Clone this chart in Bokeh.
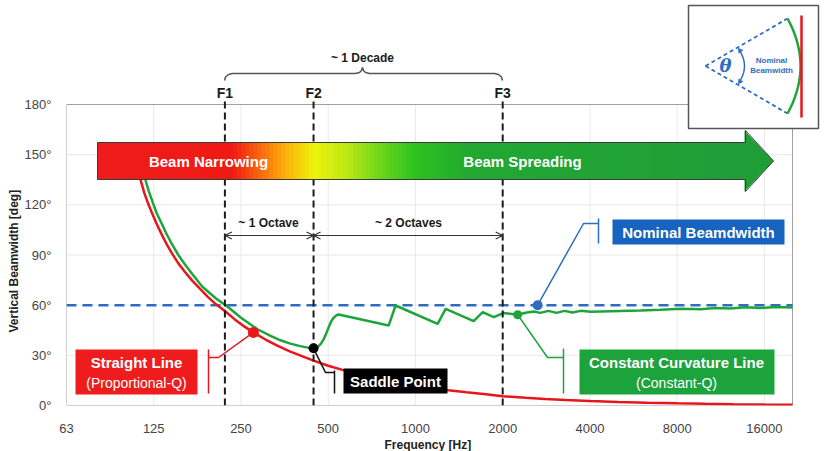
import numpy as np
from bokeh.plotting import figure
from bokeh.models import FixedTicker, Label, Arrow, OpenHead, Range1d, Title
from bokeh.embed import file_html
from bokeh.resources import INLINE

# ---------------- data ----------------
x_ticks = [62.5, 125, 250, 500, 1000, 2000, 4000, 8000, 16000]
x_tick_labels = ["63", "125", "250", "500", "1000", "2000", "4000", "8000", "16000"]
y_ticks = [0, 30, 60, 90, 120, 150, 180]
y_tick_labels = ["0°", "30°", "60°", "90°", "120°", "150°", "180°"]

# Straight line array (Proportional-Q)
red_freq = [108, 110, 113, 116, 120, 124, 128, 133, 138, 145, 152, 160, 170, 180, 192, 205,
            220, 238, 258, 280, 305, 335, 370, 410, 445, 500, 560, 630, 710, 800, 900, 1000,
            1150, 1300, 1500, 1750, 2000, 2400, 2800, 3300, 4000, 5000, 6300, 8000, 10000,
            12500, 16000, 20000]
red_deg = [149, 142, 134, 127, 120, 114, 108.5, 102.5, 97, 90.5, 85, 80, 74.5, 70, 65, 60.5,
           56.5, 51.5, 47, 43, 39.3, 35.6, 32.2, 29.2, 26.8, 23.8, 21.3, 18.9, 16.8, 14.9, 13.2,
           11.9, 10.3, 9.1, 7.9, 6.7, 5.6, 4.6, 3.9, 3.3, 2.7, 2.1, 1.7, 1.3, 1.0, 0.8, 0.6, 0.5]

# Constant curvature array (Constant-Q)
green_freq = [112, 114, 117, 120, 124, 128, 133, 138, 145, 152, 160, 170, 184, 205, 225, 250,
              285, 315, 342, 370, 400, 425, 445, 455, 463, 472, 482, 492, 501, 511, 521, 532,
              543, 808, 854, 1193, 1271, 1588, 1706, 1862, 2016, 2253, 2400, 2559, 2700, 2877,
              3067, 3268, 3483, 3712, 4025, 4711, 5977, 7006, 8231, 9628, 10843, 12221, 13770,
              15512, 17477, 20000]
green_deg = [150, 143, 135, 128.5, 121.5, 115, 109, 103, 96, 90, 84.5, 78.5, 71, 64, 59, 52.5,
             45.6, 41.8, 39, 37, 35.5, 34.6, 34.2, 34.6, 35.5, 37, 39.5, 43, 46.5, 50, 52.3, 53.8,
             54.4, 47.8, 59.8, 48.8, 57.8, 50.4, 55.8, 52.8, 55.3, 54.3, 55.5, 56.2, 55.4, 56.6,
             55.4, 56.6, 55.6, 56.6, 56.1, 56.4, 56.8, 57.3, 57.9, 57.6, 58.3, 58.0, 58.7, 58.3,
             58.9, 58.6]

nominal_deg = 60
f_marks = [220, 445, 2000]
f_names = ["F1", "F2", "F3"]
red_pt_freq = 276
saddle_freq = 445
green_pt_freq = 2253
blue_pt_freq = 2640

# ---------------- layout helpers (pixel -> data for decorations) ----------------
W, H = 825, 451
PX_L, PX_R = 66, 792
F_LO, F_HI = 62.5, 20000
OCT = (PX_R - PX_L) / np.log2(F_HI / F_LO)
PY_0, PY_180 = 405, 104
PPD = (PY_0 - PY_180) / 180.0


def fx(px):
    return F_LO * 2 ** ((np.asarray(px, dtype=float) - PX_L) / OCT)


def fy(py):
    return (PY_0 - np.asarray(py, dtype=float)) / PPD


def on_curve(f, freqs, degs):
    return float(np.interp(np.log(f), np.log(freqs), degs))


FONT = "Liberation Sans"
RED = "#E8161B"
GREEN = "#1DA53C"
BLUE = "#2E6EC2"
BLUE_BOX = "#1763BE"

p = figure(width=W, height=H, x_axis_type="log",
           x_range=Range1d(F_LO, float(fx(W))), y_range=Range1d(0, float(fy(0))),
           toolbar_location=None, output_backend="svg",
           min_border_left=PX_L, min_border_right=0, min_border_top=0,
           min_border_bottom=H - PY_0)
p.outline_line_color = None
p.background_fill_color = "white"
p.border_fill_color = "white"
p.xgrid.visible = False
p.ygrid.visible = False

# axes
p.xaxis.ticker = FixedTicker(ticks=x_ticks)
p.xaxis.major_label_overrides = {float(t): l for t, l in zip(x_ticks, x_tick_labels)}
p.yaxis.ticker = FixedTicker(ticks=y_ticks)
p.yaxis.major_label_overrides = {float(t): l for t, l in zip(y_ticks, y_tick_labels)}
for ax in (p.xaxis, p.yaxis):
    ax.axis_line_color = None
    ax.major_tick_line_color = None
    ax.minor_tick_line_color = None
    ax.major_label_text_font_size = "13px"
    ax.major_label_text_color = "#444444"
    ax.major_label_text_font = FONT
p.xaxis.major_label_standoff = 12
p.yaxis.major_label_standoff = 9

# axis titles (as side titles so they can be offset)
p.add_layout(Title(text="Vertical Beamwidth [deg]", align="left", offset=73, standoff=2,
                   text_font_size="12px", text_font_style="bold", text_font=FONT,
                   text_color="#222222"), "left")
p.add_layout(Title(text="Frequency [Hz]", align="left", offset=318, standoff=0,
                   text_font_size="12px", text_font_style="bold", text_font=FONT,
                   text_color="#222222"), "below")

# grid
p.segment(x0=x_ticks[1:], y0=0, x1=x_ticks[1:], y1=180, line_color="#e8e8e8", line_width=1)
p.segment(x0=F_LO, y0=y_ticks[1:-1], x1=F_HI, y1=y_ticks[1:-1], line_color="#e8e8e8", line_width=1)
# frame
p.quad(left=F_LO, right=F_HI, bottom=0, top=180, fill_color=None, line_color="#a0a0a0", line_width=1)

# nominal beamwidth
p.line([F_LO, F_HI], [nominal_deg, nominal_deg], line_color=BLUE, line_width=2.5, line_dash="10 6")

# curves
p.line(red_freq, red_deg, line_color=RED, line_width=2.5)
p.line(green_freq, green_deg, line_color=GREEN, line_width=2.5)

# F lines
for f in f_marks:
    p.line([f, f], [0, float(fy(97))], line_color="#1b1b1b", line_width=2, line_dash="7 4")

# ---------------- gradient arrow ----------------
body_l, body_r, body_t, body_b = 97, 745, 142, 179
head_t, head_b, tip = 130, 191, 773
stops_px = [97, 232, 258, 285, 313, 345, 385, 415, 470, 745]
stops_col = ["#EE1C1C", "#F01A14", "#F7640E", "#FDB00A", "#EEF20A", "#BEEA14",
             "#62D41C", "#2CC21E", "#22A832", "#1F9E38"]
rgb = np.array([[int(c[i:i + 2], 16) for i in (1, 3, 5)] for c in stops_col], dtype=float)
edges = np.arange(body_l, body_r + 1, 4.0)
lefts, rights, cols = [], [], []
for a, b in zip(edges[:-1], edges[1:]):
    m = (a + b) / 2
    c = [int(round(np.interp(m, stops_px, rgb[:, k]))) for k in range(3)]
    lefts.append(float(fx(a)))
    rights.append(float(fx(min(b + 0.8, body_r))))
    cols.append("#%02x%02x%02x" % tuple(c))
p.quad(left=lefts, right=rights, bottom=float(fy(body_b)), top=float(fy(body_t)),
       fill_color=cols, line_color=None)
head_x = [body_r - 1, tip, body_r - 1]
head_y = [head_t, (body_t + body_b) / 2, head_b]
p.patch(list(fx(head_x)), list(fy(head_y)), fill_color="#1F9E38", line_color=None)
outline_px = [(body_l, body_t), (body_r, body_t), (body_r, head_t), (tip, (body_t + body_b) / 2),
              (body_r, head_b), (body_r, body_b), (body_l, body_b), (body_l, body_t)]
p.line(list(fx([q[0] for q in outline_px])), list(fy([q[1] for q in outline_px])),
       line_color="#3a3a3a", line_width=1)


def label(px_x, px_y, text, size, color="white", style="bold", align="center",
          font=FONT, angle=0.0):
    p.add_layout(Label(x=float(fx(px_x)), y=float(fy(px_y)), text=text,
                       text_font_size=f"{size}px", text_color=color, text_font_style=style,
                       text_align=align, text_baseline="middle", text_font=font, angle=angle))


label(208, 161, "Beam Narrowing", 15)
label(522, 161, "Beam Spreading", 15)

# F labels, decade brace
for f, n in zip(f_marks, f_names):
    p.add_layout(Label(x=f, y=float(fy(92)), text=n, text_font_size="14px", text_color="#1b1b1b",
                       text_font_style="bold", text_align="center", text_baseline="middle",
                       text_font=FONT))
label(362, 57, "~ 1 Decade", 12, color="#1b1b1b")
brace = [(224, 80), (225, 76.5), (228, 74), (232, 73), (355, 73), (359, 72), (361, 70), (362, 67),
         (363, 70), (365, 72), (369, 73), (494, 73), (498, 74), (501, 76.5), (502, 80)]
p.line(list(fx([q[0] for q in brace])), list(fy([q[1] for q in brace])),
       line_color="#555555", line_width=1.5)

# octave spans
for a, b in ((f_marks[0], f_marks[1]), (f_marks[1], f_marks[2])):
    p.add_layout(Arrow(start=OpenHead(size=7, line_color="#333333", line_width=1.2),
                       end=OpenHead(size=7, line_color="#333333", line_width=1.2),
                       x_start=a, y_start=float(fy(235)), x_end=b, y_end=float(fy(235)),
                       line_color="#333333", line_width=1.2))
label(268, 222, "~ 1 Octave", 12, color="#1b1b1b")
label(408, 222, "~ 2 Octaves", 12, color="#1b1b1b")

# ---------------- callouts ----------------
red_pt = on_curve(red_pt_freq, red_freq, red_deg)
sad_pt = on_curve(saddle_freq, green_freq, green_deg)
grn_pt = on_curve(green_pt_freq, green_freq, green_deg)


def leader(f0, d0, bend_px, end_px, bar_x, bar_y0, bar_y1, color):
    xs = [f0, float(fx(bend_px[0])), float(fx(end_px[0]))]
    ys = [d0, float(fy(bend_px[1])), float(fy(end_px[1]))]
    p.line(xs, ys, line_color=color, line_width=1.5)
    p.line([float(fx(bar_x))] * 2, [float(fy(bar_y0)), float(fy(bar_y1))], line_color=color,
           line_width=1.5)


def box(l, r, t, b, color):
    p.quad(left=float(fx(l)), right=float(fx(r)), top=float(fy(t)), bottom=float(fy(b)),
           fill_color=color, line_color=None)


# red: straight line
leader(red_pt_freq, red_pt, (218, 357), (208, 357), 208, 349, 393, RED)
box(75, 197, 349, 394, "#EE1C1C")
label(136, 362, "Straight Line", 15)
label(136, 382, "(Proportional-Q)", 14, style="normal")

# saddle
leader(saddle_freq, sad_pt, (325, 372), (334, 372), 334, 370, 393, "#111111")
box(343, 447, 368, 393, "#000000")
label(395, 381, "Saddle Point", 15)

# green: constant curvature
leader(green_pt_freq, grn_pt, (547, 357), (563, 357), 563, 348, 393, GREEN)
box(579, 774, 349, 394, "#1CA33C")
label(676, 362, "Constant Curvature Line", 15)
label(676, 382, "(Constant-Q)", 14, style="normal")

# blue: nominal beamwidth
leader(blue_pt_freq, nominal_deg, (583, 223), (598, 223), 598, 218, 243, BLUE)
box(612, 784, 219, 244, BLUE_BOX)
label(698, 232, "Nominal Beamdwidth", 15)

p.scatter([red_pt_freq], [red_pt], size=11, fill_color=RED, line_color=None)
p.scatter([saddle_freq], [sad_pt], size=10, fill_color="#000000", line_color=None)
p.scatter([green_pt_freq], [grn_pt], size=9, fill_color=GREEN, line_color=None)
p.scatter([blue_pt_freq], [nominal_deg], size=10, fill_color=BLUE, line_color=None)

# ---------------- inset ----------------
box(688, 818, 5, 128, "white")
p.quad(left=float(fx(688)), right=float(fx(818)), top=float(fy(5)), bottom=float(fy(128)),
       fill_color=None, line_color="#555555", line_width=1.5)
apex = (705, 65.5)
for end in ((787, 18), (787, 113)):
    p.line(list(fx([apex[0], end[0]])), list(fy([apex[1], end[1]])), line_color=BLUE,
           line_width=1.8, line_dash="4 3")
arc_y = np.linspace(18, 113, 30)
arc_x = 800 - 13 * ((arc_y - 65.5) / 47.5) ** 2
p.line(list(fx(arc_x)), list(fy(arc_y)), line_color=GREEN, line_width=2.5)
p.line(list(fx([801, 801])), list(fy([15, 117])), line_color=RED, line_width=2.5)
sm_y = np.linspace(50, 81, 15)
sm_x = 744 - 5 * ((sm_y - 65.5) / 15.5) ** 2
p.line(list(fx(sm_x)), list(fy(sm_y)), line_color=BLUE, line_width=1.5)
p.scatter([float(fx(739.5))], [float(fy(50))], marker="triangle", size=6, fill_color=BLUE,
          line_color=None, angle=0.6)
p.scatter([float(fx(739.5))], [float(fy(81))], marker="inverted_triangle", size=6,
          fill_color=BLUE, line_color=None, angle=-0.6)
label(725, 65, "θ", 18, color=BLUE, style="bold italic", font="DejaVu Serif")
label(771, 60, "Nominal", 8, color=BLUE)
label(771, 70, "Beamwidth", 8, color=BLUE)

open("out.html", "w").write(file_html(p, INLINE))
